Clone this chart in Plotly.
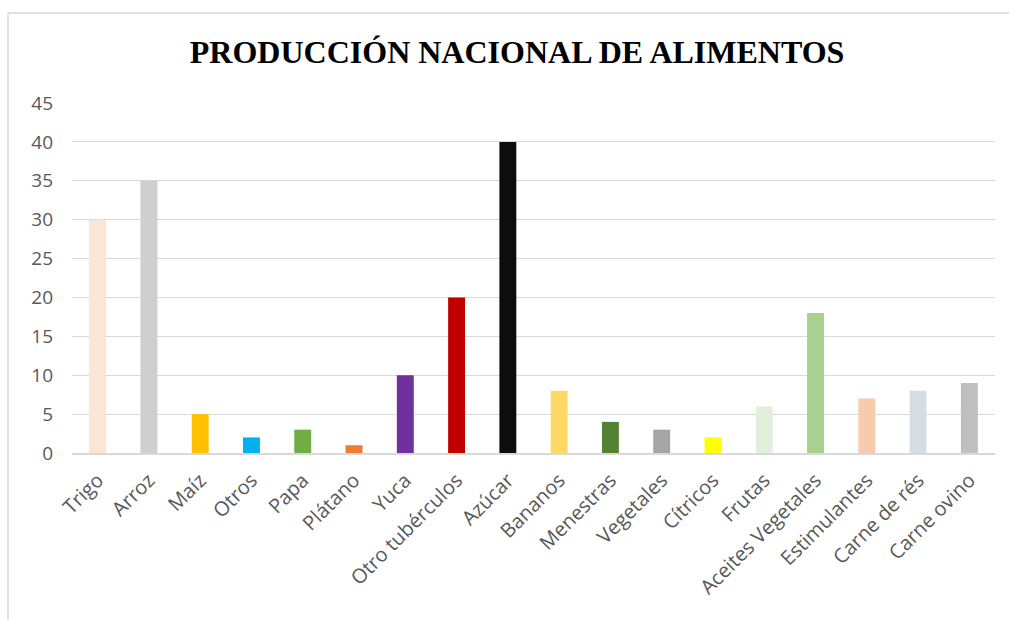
import plotly.graph_objects as go

categories = ["Trigo", "Arroz", "Maíz", "Otros", "Papa", "Plátano", "Yuca",
              "Otro tubérculos", "Azúcar", "Bananos", "Menestras", "Vegetales",
              "Cítricos", "Frutas", "Aceites Vegetales", "Estimulantes",
              "Carne de rés", "Carne ovino"]
values = [30, 35, 5, 2, 3, 1, 10, 20, 40, 8, 4, 3, 2, 6, 18, 7, 8, 9]
colors = ["#FBE5D6", "#D0CECE", "#FFC000", "#00B0F0", "#70AD47", "#ED7D31",
          "#7030A0", "#C00000", "#0D0D0D", "#FFD966", "#548235", "#A5A5A5",
          "#FFFF00", "#E2EFDA", "#A9D18E", "#F8CBAD", "#D6DCE4", "#BFBFBF"]
y_ticks = [0, 5, 10, 15, 20, 25, 30, 35, 40, 45]

W, H = 1009, 620
ml, mr, mt, mb = 72, 14, 103, 167
pw, ph = W - ml - mr, H - mt - mb

fig = go.Figure(go.Bar(x=categories, y=values, marker=dict(color=colors, line=dict(width=0))))

bx = (8 - ml) / pw
by = (H - mb - 13) / ph
fig.add_shape(type="line", xref="paper", yref="paper", x0=bx, x1=bx, y0=-1.0, y1=by,
              line=dict(color="#D9D9D9", width=1.5), layer="below")
fig.add_shape(type="line", xref="paper", yref="paper", x0=bx, x1=1.2, y0=by, y1=by,
              line=dict(color="#D9D9D9", width=1.5), layer="below")

fig.update_layout(
    width=W, height=H,
    margin=dict(l=ml, r=mr, t=mt, b=mb),
    paper_bgcolor="white", plot_bgcolor="white",
    bargap=0.67,
    showlegend=False,
    title=dict(text="<b>PRODUCCIÓN NACIONAL DE ALIMENTOS</b>",
               font=dict(family="Liberation Serif", size=32, color="black"),
               x=0.5125, xanchor="center", y=1 - 52 / H, yanchor="middle"),
    xaxis=dict(tickangle=-45, tickfont=dict(family="Open Sans", size=20, color="#595959"),
               showline=True, linecolor="#D9D9D9", linewidth=1.5, ticks="",
               showgrid=False, ticklabelstandoff=6),
    yaxis=dict(range=[0, 45], tickvals=y_ticks, showgrid=True, gridcolor="#D9D9D9",
               gridwidth=1, zeroline=False, showline=False, ticks="",
               tickfont=dict(family="Open Sans", size=19, color="#595959"),
               ticklabelstandoff=18),
)

fig.write_html("out.html")
